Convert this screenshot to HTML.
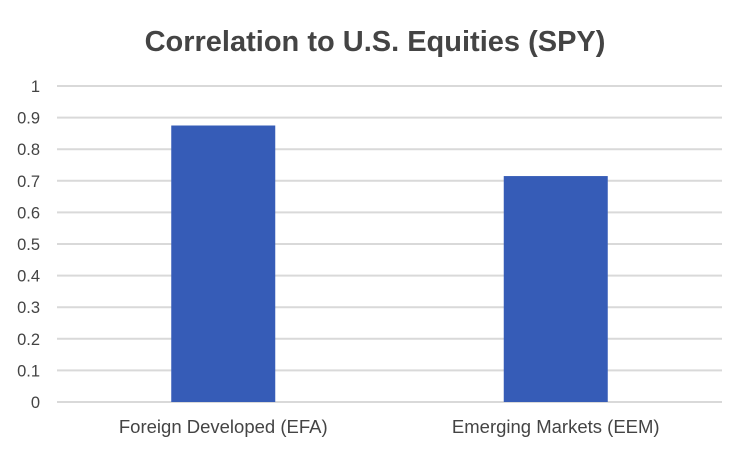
<!DOCTYPE html>
<html><head><meta charset="utf-8"><style>
body{margin:0;background:#fff;}
svg{display:block;font-family:"Liberation Sans",Arial,sans-serif;}
</style></head><body>
<svg id="chart" width="750" height="450">
<text x="375" y="51" text-anchor="middle" font-size="29" font-weight="bold" fill="#444">Correlation to U.S. Equities (SPY)</text>
<g id="grid"></g><g id="bars"></g><g id="labels"></g>
</svg>
<script>
const categories = ["Foreign Developed (EFA)", "Emerging Markets (EEM)"];
const values = [0.875, 0.715];
const ticks = [0,0.1,0.2,0.3,0.4,0.5,0.6,0.7,0.8,0.9,1];
const tickLabels = ["0","0.1","0.2","0.3","0.4","0.5","0.6","0.7","0.8","0.9","1"];
const L=57,R=722,T=86,B=402;
function y(v){return B-(v/1)*(B-T);}
const bw=(R-L)/categories.length;
function xc(i){return L+bw*(i+0.5);}
const NS="http://www.w3.org/2000/svg";
const g=document.getElementById('grid'),bg=document.getElementById('bars'),lg=document.getElementById('labels');
ticks.forEach((t,i)=>{
 const l=document.createElementNS(NS,'line');
 l.setAttribute('x1',L);l.setAttribute('x2',R);l.setAttribute('y1',y(t));l.setAttribute('y2',y(t));
 l.setAttribute('stroke','#d9d9d9');l.setAttribute('stroke-width','2');
 
 
 g.appendChild(l);
 const tx=document.createElementNS(NS,'text');
 tx.setAttribute('x',40);tx.setAttribute('y',y(t)+6);tx.setAttribute('text-anchor','end');
 tx.setAttribute('font-size','16.5');tx.setAttribute('fill','#444');tx.textContent=tickLabels[i];
 
 
 lg.appendChild(tx);
});
categories.forEach((c,i)=>{
 const w=104;
 const r=document.createElementNS(NS,'rect');
 r.setAttribute('x',xc(i)-w/2);r.setAttribute('width',w);
 r.setAttribute('y',y(values[i]));r.setAttribute('height',B-y(values[i]));
 r.setAttribute('fill','#365cb7');
 
 
 bg.appendChild(r);
 const tx=document.createElementNS(NS,'text');
 tx.setAttribute('x',xc(i));tx.setAttribute('y',433);tx.setAttribute('text-anchor','middle');
 tx.setAttribute('font-size','18.5');tx.setAttribute('fill','#444');tx.textContent=c;
 
 
 lg.appendChild(tx);
});
</script>
</body></html>
